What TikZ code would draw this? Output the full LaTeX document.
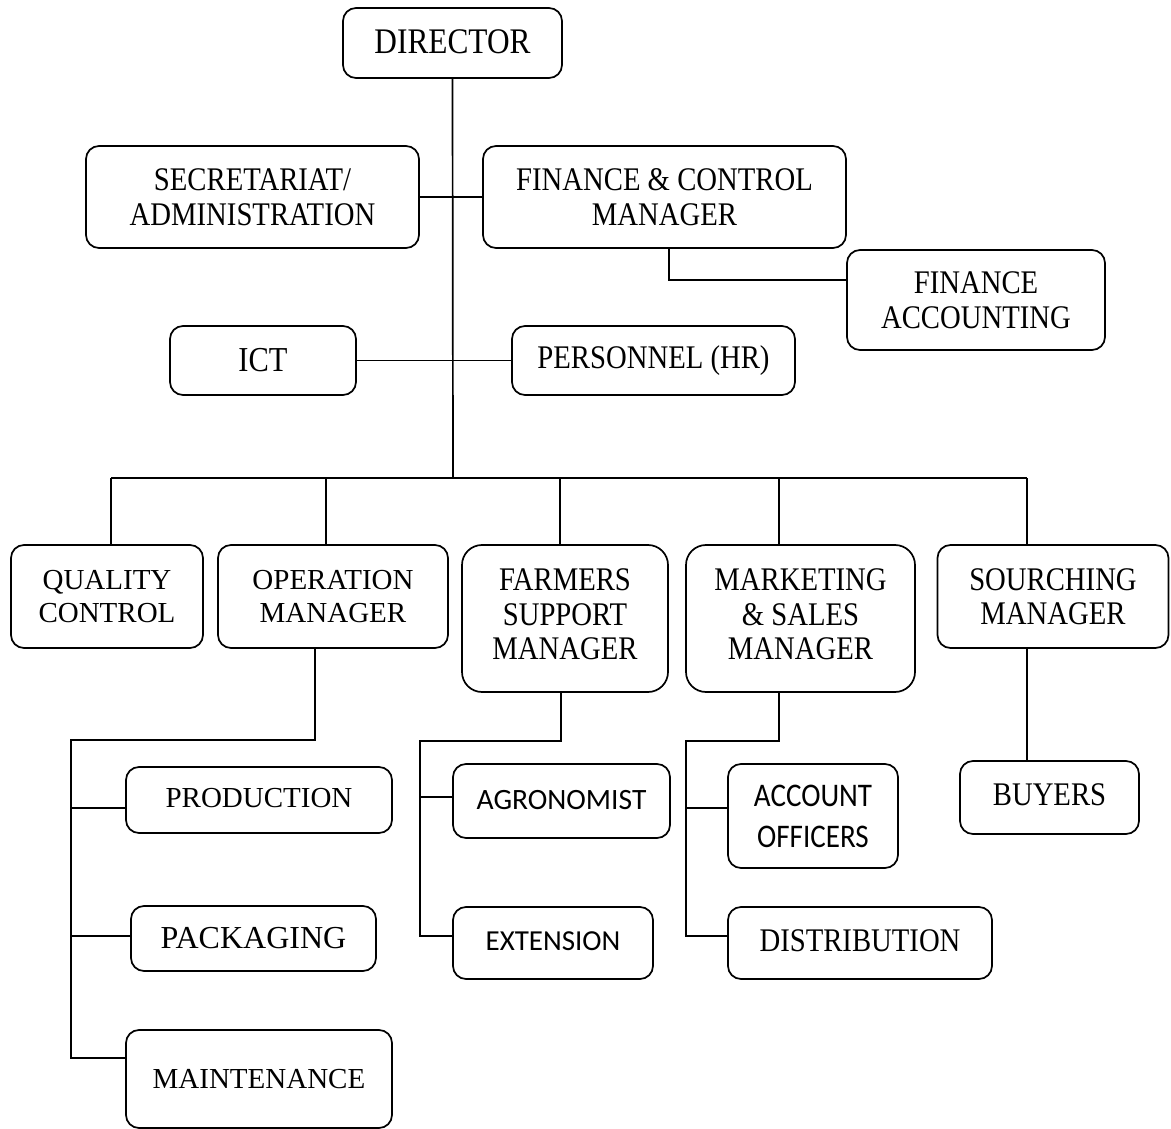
\documentclass[tikz,border=0pt]{standalone}
\usepackage{fontspec}
\setmainfont{Liberation Serif}
\newfontfamily\condserif[FakeStretch=0.87]{Liberation Serif}
\newfontfamily\calib{Carlito}
\newfontfamily\calibcond[FakeStretch=0.88]{Carlito}
\begin{document}
\begin{tikzpicture}[x=1pt,y=-1pt,
  box/.style={draw, line width=1.7pt, rounded corners=13pt, align=center, inner sep=0pt},
  nrm/.style={font=\fontsize{29}{33.5}\selectfont},
  cnd/.style={font=\condserif\fontsize{33}{34.5}\selectfont},
  cal/.style={font=\calib\fontsize{29.5}{34}\selectfont},
  link/.style={line width=1.7pt}]
\useasboundingbox (0,0) rectangle (1171,1129);
% top level
\node[box,cnd,font=\condserif\fontsize{36}{36}\selectfont,minimum width=219,minimum height=70] (dir) at (452.5,43) {\raisebox{3pt}{DIRECTOR}};
\node[box,cnd,minimum width=333,minimum height=102] (sec) at (252.5,197) {SECRETARIAT/\\ADMINISTRATION};
\node[box,cnd,minimum width=363,minimum height=102] (fcm) at (664.5,197) {FINANCE \& CONTROL\\MANAGER};
\node[box,cnd,minimum width=258,minimum height=100] (fa) at (976,300) {FINANCE\\ACCOUNTING};
\node[box,cnd,font=\condserif\fontsize{35}{35}\selectfont,minimum width=186,minimum height=69] (ict) at (263,360.5) {ICT};
\node[box,cnd,minimum width=283,minimum height=69] (hr) at (653.5,360.5) {\raisebox{2pt}{PERSONNEL (HR)}};
% managers
\node[box,nrm,minimum width=192,minimum height=103] (qc) at (107,596.5) {QUALITY\\CONTROL};
\node[box,nrm,minimum width=230,minimum height=103] (om) at (333,596.5) {OPERATION\\MANAGER};
\node[box,cnd,rounded corners=20pt,minimum width=206,minimum height=147] (fsm) at (565,618.5) {\raisebox{5.5pt}{\begin{tabular}{@{}c@{}}FARMERS\\SUPPORT\\MANAGER\end{tabular}}};
\node[box,cnd,rounded corners=20pt,minimum width=229,minimum height=147] (msm) at (800.5,618.5) {\raisebox{5.5pt}{\begin{tabular}{@{}c@{}}MARKETING\\\& SALES\\MANAGER\end{tabular}}};
\node[box,cnd,minimum width=231,minimum height=103] (sm) at (1053,596.5) {SOURCHING\\MANAGER};
% operation children
\node[box,nrm,minimum width=266,minimum height=66] (prod) at (259,800) {\raisebox{5pt}{PRODUCTION}};
\node[box,nrm,font=\fontsize{32}{32}\selectfont,minimum width=245,minimum height=65] (pack) at (253.5,938.5) {PACKAGING};
\node[box,nrm,minimum width=266,minimum height=98] (maint) at (259,1079) {MAINTENANCE};
% farmers children
\node[box,cal,minimum width=217,minimum height=74] (agro) at (561.5,801) {\raisebox{3pt}{AGRONOMIST}};
\node[box,cal,font=\calib\fontsize{29}{30}\selectfont,minimum width=200,minimum height=72] (ext) at (553,943) {\raisebox{4pt}{EXTENSION}};
% marketing children
\node[box,font=\calibcond\fontsize{33}{41}\selectfont,minimum width=170,minimum height=104] (acc) at (813,816) {ACCOUNT\\OFFICERS};
\node[box,cnd,minimum width=264,minimum height=72] (dist) at (860,943) {\raisebox{4pt}{DISTRIBUTION}};
% sourcing child
\node[box,cnd,minimum width=179,minimum height=73] (buy) at (1049.5,797.5) {\raisebox{5pt}{BUYERS}};
% connectors
\coordinate (d1) at (111,478);
\coordinate (d2) at (326,478);
\coordinate (d3) at (560,478);
\coordinate (d4) at (779,478);
\coordinate (d5) at (1027,478);
\coordinate (dc) at (453,478);
\draw[link] (dir.south) -- (dc);
\draw[link] (sec.east) -- (fcm.west);
\draw[link] (ict.east) -- (hr.west);
\draw[link] ([xshift=4.5pt]fcm.south) |- ([yshift=20pt]fa.west);
\draw[link] (d1) -- (d5);
\draw[link] (d1) -- (d1 |- qc.north);
\draw[link] (d2) -- (d2 |- om.north);
\draw[link] (d3) -- (d3 |- fsm.north);
\draw[link] (d4) -- (d4 |- msm.north);
\draw[link] (d5) -- (d5 |- sm.north);
% operation branch
\coordinate (oj) at (71,740);
\draw[link] ([xshift=-18pt]om.south) |- (oj) |- ([yshift=21pt]maint.west);
\draw[link] (oj |- prod.west) ++(0,8) -- ([yshift=-8pt]prod.west);
\draw[link] (oj |- pack.west) ++(0,-2.5) -- ([yshift=2.5pt]pack.west);
% farmers branch
\coordinate (fj) at (420,741);
\draw[link] ([xshift=-4pt]fsm.south) |- (fj) |- ([yshift=7pt]ext.west);
\draw[link] (fj |- agro.west) ++(0,-4) -- ([yshift=4pt]agro.west);
% marketing branch
\coordinate (mj) at (686,741);
\draw[link] ([xshift=-21.5pt]msm.south) |- (mj) |- ([yshift=7pt]dist.west);
\draw[link] (mj |- acc.west) ++(0,-8) -- ([yshift=8pt]acc.west);
% sourcing branch
\draw[link] ([xshift=-26pt]sm.south) -- ([xshift=-22.5pt]buy.north);
\end{tikzpicture}
\end{document}
